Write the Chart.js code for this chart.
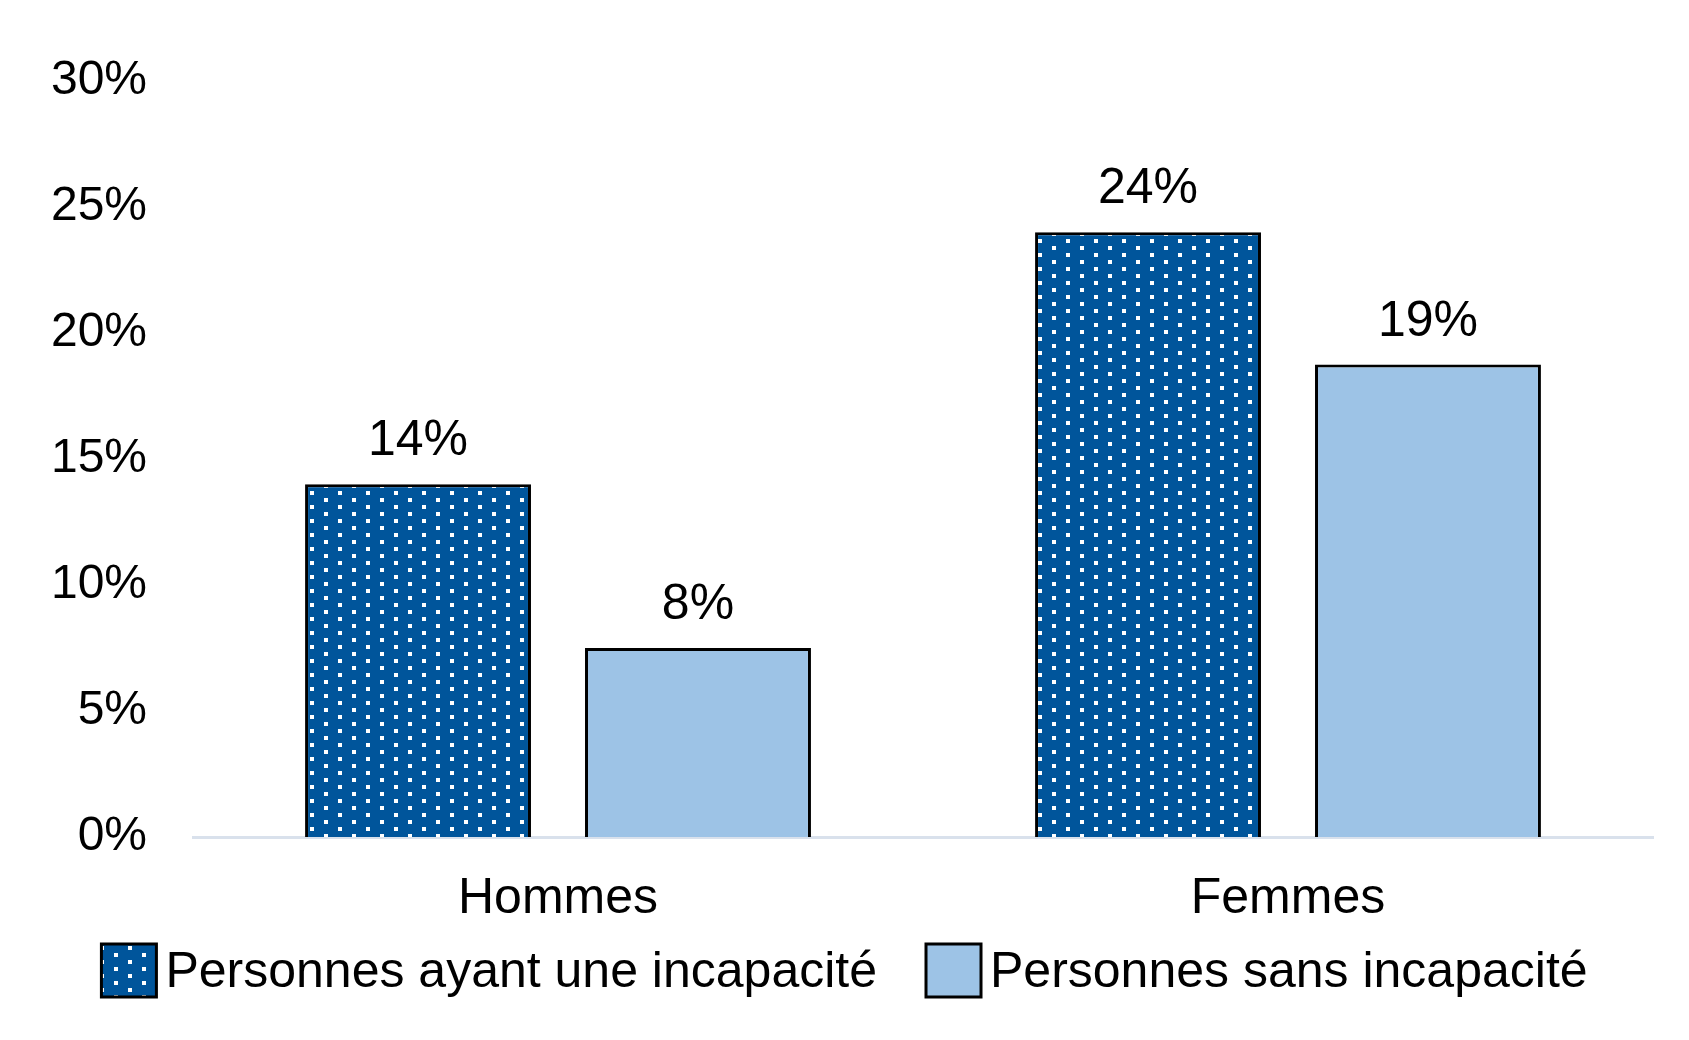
<!DOCTYPE html>
<html>
<head>
<meta charset="utf-8">
<script src="https://cdn.jsdelivr.net/npm/chart.js@4.4.0/dist/chart.umd.min.js"></script>
<style>
    body { margin: 0; background: #fff; }
    #wrap { width: 1689px; height: 1040px; position: relative; }
</style>
</head>
<body>
<div id="wrap"><canvas id="chart"></canvas></div>
<script>
// Data
const categories = ["Hommes", "Femmes"];
const seriesNames = ["Personnes ayant une incapacité", "Personnes sans incapacité"];
const ayant = [14, 24];
const sans = [7.5, 18.75];
const yTicks = [0, 5, 10, 15, 20, 25, 30];

const FONT = "'Liberation Sans', Arial, sans-serif";
const DARK = "#00559b";
const LIGHT = "#9dc3e6";

// Dotted pattern for the first series
function makeDots() {
    const c = document.createElement("canvas");
    c.width = 28;
    c.height = 14;
    const g = c.getContext("2d");
    g.fillStyle = DARK;
    g.fillRect(0, 0, 28, 14);
    g.fillStyle = "#fff";
    g.fillRect(2, 1, 4, 4);
    g.fillRect(16, 8, 4, 4);
    return g.createPattern(c, "repeat");
}
const dots = makeDots();

// Value labels above the bars
const valueLabels = {
    id: "valueLabels",
    afterDatasetsDraw(chart) {
        const ctx = chart.ctx;
        ctx.save();
        ctx.font = `50px ${FONT}`;
        ctx.fillStyle = "#000";
        ctx.textAlign = "center";
        ctx.textBaseline = "alphabetic";
        chart.data.datasets.forEach((ds, i) => {
            chart.getDatasetMeta(i).data.forEach((bar, j) => {
                ctx.fillText(Math.round(ds.data[j]) + "%", bar.x, bar.y - 29);
            });
        });
        ctx.restore();
    }
};

// Legend drawn under the axis
const bottomLegend = {
    id: "bottomLegend",
    afterDraw(chart) {
        const ctx = chart.ctx;
        const box = 55, boxH = 53, gap = 9, itemGap = 49;
        ctx.save();
        ctx.font = `50px ${FONT}`;
        const widths = chart.data.datasets.map(ds => ctx.measureText(ds.label).width);
        let total = 0;
        widths.forEach((w, i) => { total += box + gap + w + (i ? itemGap : 0); });
        let x = (chart.width - total) / 2;
        const top = chart.height - 96;
        chart.data.datasets.forEach((ds, i) => {
            ctx.fillStyle = ds.backgroundColor;
            ctx.fillRect(x, top, box, boxH);
            ctx.lineWidth = 3;
            ctx.strokeStyle = "#000";
            ctx.strokeRect(x, top, box, boxH);
            ctx.fillStyle = "#000";
            ctx.textBaseline = "alphabetic";
            ctx.fillText(ds.label, x + box + gap, top + 43);
            x += box + gap + widths[i] + itemGap;
        });
        ctx.restore();
    }
};

new Chart(document.getElementById("chart"), {
    type: "bar",
    data: {
        labels: categories,
        datasets: [
            {
                label: seriesNames[0],
                data: ayant,
                backgroundColor: dots,
                borderColor: "#000",
                borderWidth: 3
            },
            {
                label: seriesNames[1],
                data: sans,
                backgroundColor: LIGHT,
                borderColor: "#000",
                borderWidth: 3
            }
        ]
    },
    options: {
        responsive: true,
        maintainAspectRatio: false,
        animation: false,
        devicePixelRatio: 1,
        layout: {
            padding: { top: 81, right: 36, bottom: 79, left: 0 }
        },
        datasets: {
            bar: {
                categoryPercentage: 0.767,
                barPercentage: 0.807
            }
        },
        scales: {
            x: {
                grid: { display: false, drawTicks: false },
                border: { color: "#d9e1ec", width: 3 },
                ticks: {
                    color: "#000",
                    padding: 32,
                    font: { family: FONT, size: 50 }
                }
            },
            y: {
                min: 0,
                max: 30,
                afterBuildTicks: (scale) => {
                    scale.ticks = yTicks.map(v => ({ value: v }));
                },
                afterFit: (scale) => {
                    scale.width = 193;
                },
                grid: { display: false, drawTicks: false },
                border: { display: false },
                ticks: {
                    color: "#000",
                    padding: 46,
                    font: { family: FONT, size: 48 },
                    callback: (v) => v + "%"
                }
            }
        },
        plugins: {
            legend: { display: false },
            tooltip: { enabled: false }
        }
    },
    plugins: [valueLabels, bottomLegend]
});
</script>
</body>
</html>
